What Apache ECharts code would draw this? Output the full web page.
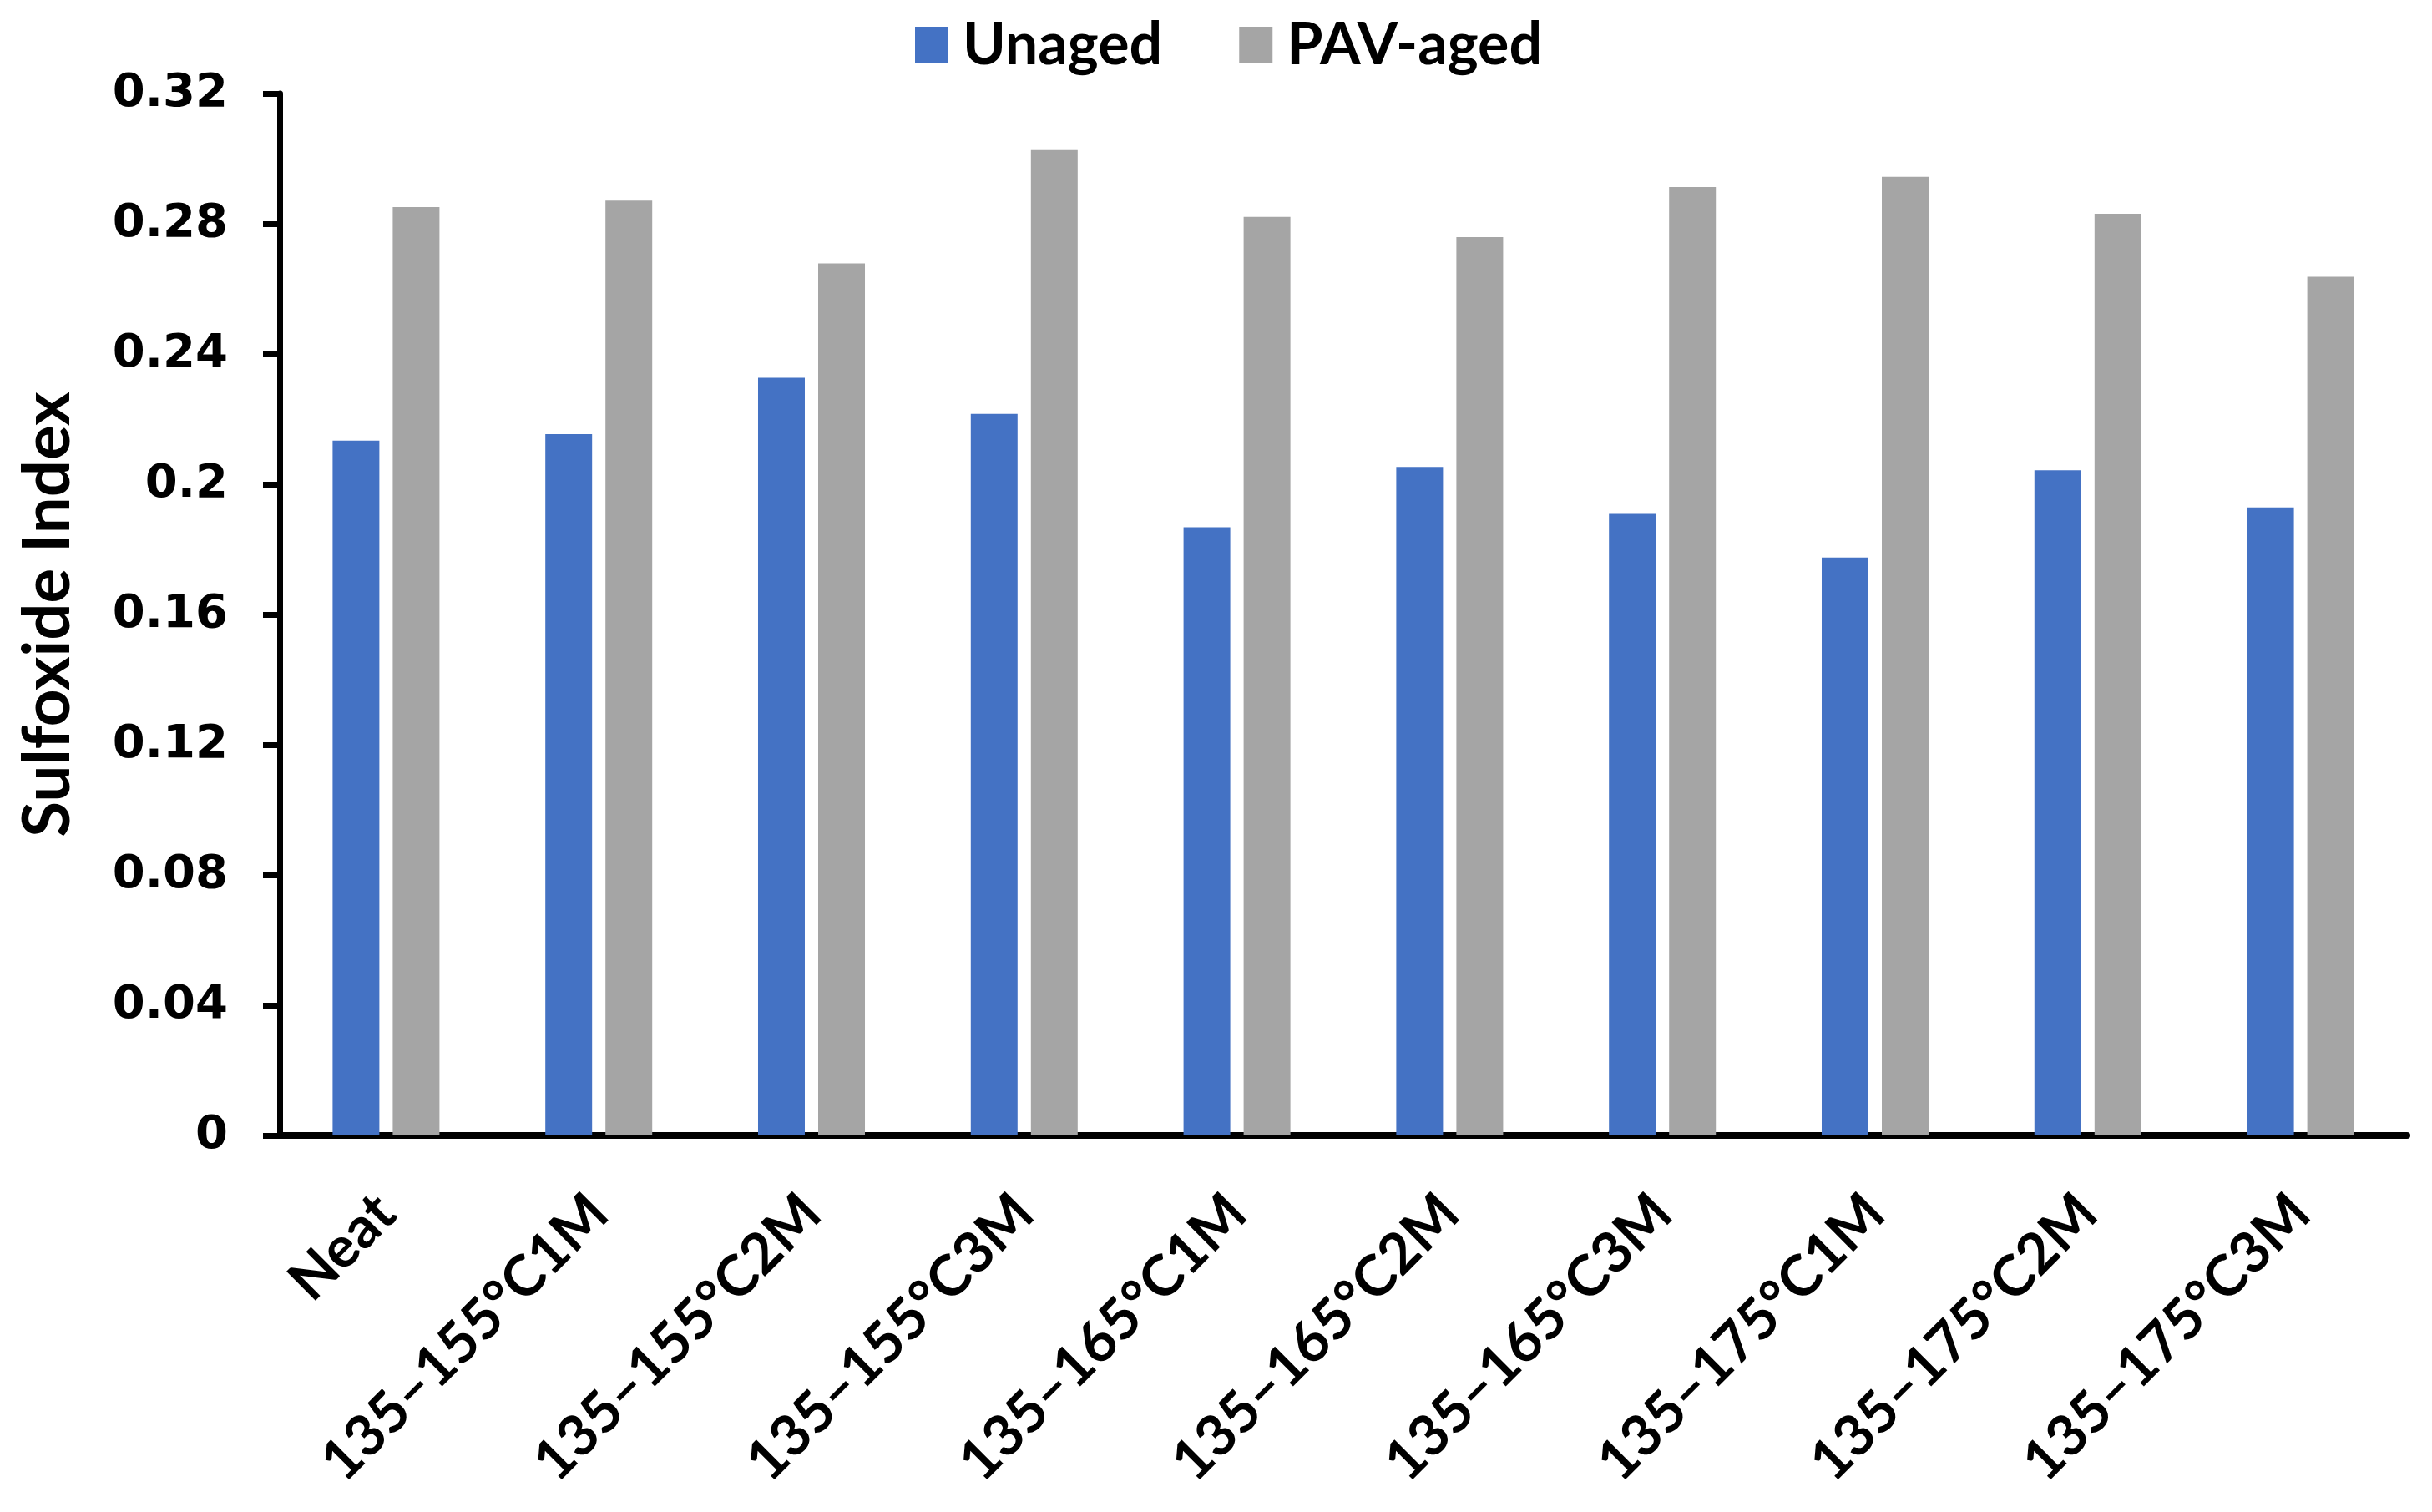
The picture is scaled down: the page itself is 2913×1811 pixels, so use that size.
<!DOCTYPE html>
<html>
<head>
<meta charset="utf-8">
<script src="https://cdn.jsdelivr.net/npm/echarts@6/dist/echarts.min.js"></script>
<style>
html,body{margin:0;padding:0;background:#fff;}
#chart{width:2913px;height:1811px;}
</style>
</head>
<body>
<div id="chart"></div>
<script>
const categories = ['Neat','135–155°C1M','135–155°C2M','135–155°C3M','135–165°C1M','135–165°C2M','135–165°C3M','135–175°C1M','135–175°C2M','135–175°C3M'];
const unaged = [0.2134,0.2154,0.2327,0.2216,0.1868,0.2053,0.1909,0.1775,0.2043,0.1929];
const pavAged = [0.2851,0.2871,0.2678,0.3026,0.2821,0.2759,0.2913,0.2944,0.2831,0.2637];
const yTickLabels = ['0','0.04','0.08','0.12','0.16','0.2','0.24','0.28','0.32'];

const chart = echarts.init(document.getElementById('chart'));
chart.setOption({
  backgroundColor:'#fff',
  animation:false,
  legend:{
    left:1091, top:14,
    itemWidth:40, itemHeight:44, itemGap:92,
    icon:'rect',
    textStyle:{fontFamily:'Lato', fontWeight:'bold', fontSize:70, color:'#000', padding:[0,0,0,12]},
    data:['Unaged','PAV-aged']
  },
  grid:{left:335, right:30, top:112, bottom:451, containLabel:false},
  xAxis:{
    type:'category',
    data:categories,
    axisLine:{lineStyle:{color:'#000', width:8}},
    axisTick:{show:false},
    axisLabel:{rotate:45, fontFamily:'Lato', fontWeight:'bold', fontSize:68, color:'#000', margin:82, interval:0}
  },
  yAxis:{
    type:'value', min:0, max:0.32, interval:0.04,
    name:'Sulfoxide Index', nameLocation:'middle', nameGap:238,
    nameTextStyle:{fontFamily:'Lato', fontWeight:'bold', fontSize:78, color:'#000'},
    axisLine:{show:true, lineStyle:{color:'#000', width:7}},
    axisTick:{show:true, length:20, lineStyle:{color:'#000', width:7}},
    splitLine:{show:false},
    axisLabel:{
      fontFamily:'DejaVu Sans', fontWeight:'bold', fontSize:56, color:'#000', margin:62,
      formatter:function(v){ return yTickLabels[Math.round(v/0.04)]; }
    }
  },
  series:[
    {name:'Unaged', type:'bar', data:unaged, barWidth:56, barGap:'28.6%', itemStyle:{color:'#4472C4'}},
    {name:'PAV-aged', type:'bar', data:pavAged, barWidth:56, itemStyle:{color:'#A5A5A5'}}
  ]
});
</script>
</body>
</html>
